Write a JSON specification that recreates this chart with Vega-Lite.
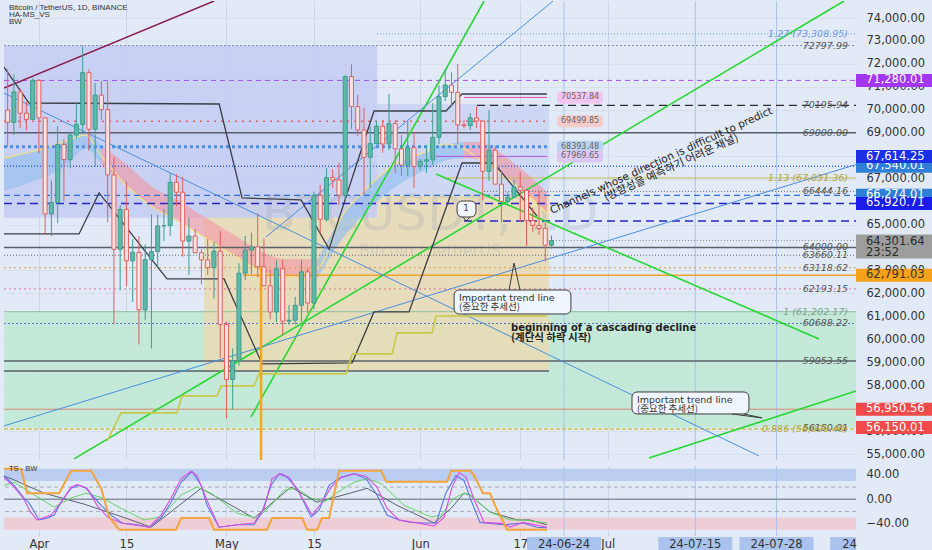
{
  "$schema": "https://vega.github.io/schema/vega-lite/v6.json",
  "background": "#e1eaf6",
  "padding": 0,
  "spacing": 2,
  "config": {"view": {"stroke": null}, "font": "DejaVu Sans"},
  "datasets": {
    "ohlc": [
      {"d":"2024-03-27","o":69990,"h":71770,"l":68380,"c":69450},
      {"d":"2024-03-28","o":69450,"h":71550,"l":68900,"c":70780},
      {"d":"2024-03-29","o":70780,"h":70920,"l":69210,"c":69850},
      {"d":"2024-03-30","o":69850,"h":70360,"l":69100,"c":69580},
      {"d":"2024-03-31","o":69580,"h":71370,"l":69560,"c":71280},
      {"d":"2024-04-01","o":71280,"h":71340,"l":68100,"c":69650},
      {"d":"2024-04-02","o":69650,"h":69680,"l":64550,"c":65460},
      {"d":"2024-04-03","o":65460,"h":66910,"l":64490,"c":65960},
      {"d":"2024-04-04","o":65960,"h":69290,"l":65060,"c":68490},
      {"d":"2024-04-05","o":68490,"h":68720,"l":66000,"c":67830},
      {"d":"2024-04-06","o":67830,"h":69000,"l":67450,"c":68900},
      {"d":"2024-04-07","o":68900,"h":70330,"l":68750,"c":69360},
      {"d":"2024-04-08","o":69360,"h":72800,"l":69040,"c":71620},
      {"d":"2024-04-09","o":71620,"h":71760,"l":68210,"c":69150},
      {"d":"2024-04-10","o":69150,"h":71170,"l":67520,"c":70640},
      {"d":"2024-04-11","o":70640,"h":71260,"l":69570,"c":70010},
      {"d":"2024-04-12","o":70010,"h":71230,"l":65100,"c":67160},
      {"d":"2024-04-13","o":67160,"h":67930,"l":60660,"c":63920},
      {"d":"2024-04-14","o":63920,"h":65840,"l":62130,"c":65660},
      {"d":"2024-04-15","o":65660,"h":66870,"l":62300,"c":63420},
      {"d":"2024-04-16","o":63420,"h":64360,"l":61620,"c":63790},
      {"d":"2024-04-17","o":63790,"h":64490,"l":59770,"c":61280},
      {"d":"2024-04-18","o":61280,"h":64130,"l":60830,"c":63470},
      {"d":"2024-04-19","o":63470,"h":65450,"l":59600,"c":63820},
      {"d":"2024-04-20","o":63820,"h":65420,"l":63170,"c":64940},
      {"d":"2024-04-21","o":64940,"h":65700,"l":64280,"c":64950},
      {"d":"2024-04-22","o":64950,"h":67230,"l":64500,"c":66840},
      {"d":"2024-04-23","o":66840,"h":67200,"l":65800,"c":66410},
      {"d":"2024-04-24","o":66410,"h":67080,"l":63600,"c":64280},
      {"d":"2024-04-25","o":64280,"h":65300,"l":62790,"c":64500},
      {"d":"2024-04-26","o":64500,"h":64800,"l":63780,"c":63770},
      {"d":"2024-04-27","o":63770,"h":63920,"l":62390,"c":63460},
      {"d":"2024-04-28","o":63460,"h":64370,"l":62810,"c":63120},
      {"d":"2024-04-29","o":63120,"h":64230,"l":61770,"c":63840},
      {"d":"2024-04-30","o":63840,"h":64730,"l":59190,"c":60640},
      {"d":"2024-05-01","o":60640,"h":60780,"l":56550,"c":58250},
      {"d":"2024-05-02","o":58250,"h":59600,"l":56940,"c":59060},
      {"d":"2024-05-03","o":59060,"h":63320,"l":58850,"c":62880},
      {"d":"2024-05-04","o":62880,"h":64500,"l":62580,"c":63890},
      {"d":"2024-05-05","o":63890,"h":64650,"l":62850,"c":64030},
      {"d":"2024-05-06","o":64030,"h":65500,"l":62700,"c":63160},
      {"d":"2024-05-07","o":63160,"h":64390,"l":62570,"c":62330},
      {"d":"2024-05-08","o":62330,"h":63030,"l":60880,"c":61190},
      {"d":"2024-05-09","o":61190,"h":63450,"l":60750,"c":63070},
      {"d":"2024-05-10","o":63070,"h":63470,"l":60190,"c":60790},
      {"d":"2024-05-11","o":60790,"h":61490,"l":60630,"c":60830},
      {"d":"2024-05-12","o":60830,"h":61850,"l":60630,"c":61480},
      {"d":"2024-05-13","o":61480,"h":63450,"l":60750,"c":62940},
      {"d":"2024-05-14","o":62940,"h":63100,"l":61150,"c":61580},
      {"d":"2024-05-15","o":61580,"h":66440,"l":61310,"c":66270},
      {"d":"2024-05-16","o":66270,"h":66730,"l":64600,"c":65230},
      {"d":"2024-05-17","o":65230,"h":67450,"l":65120,"c":67050},
      {"d":"2024-05-18","o":67050,"h":67400,"l":66600,"c":66940},
      {"d":"2024-05-19","o":66940,"h":67700,"l":65850,"c":66280},
      {"d":"2024-05-20","o":66280,"h":71500,"l":66060,"c":71450},
      {"d":"2024-05-21","o":71450,"h":71980,"l":69160,"c":70140},
      {"d":"2024-05-22","o":70140,"h":70650,"l":68850,"c":69120},
      {"d":"2024-05-23","o":69120,"h":70090,"l":66310,"c":67930},
      {"d":"2024-05-24","o":67930,"h":69250,"l":66600,"c":68530},
      {"d":"2024-05-25","o":68530,"h":69520,"l":68480,"c":69290},
      {"d":"2024-05-26","o":69290,"h":69560,"l":68130,"c":68510},
      {"d":"2024-05-27","o":68510,"h":70690,"l":68250,"c":69400},
      {"d":"2024-05-28","o":69400,"h":69560,"l":67250,"c":68300},
      {"d":"2024-05-29","o":68300,"h":68900,"l":67120,"c":67590},
      {"d":"2024-05-30","o":67590,"h":69500,"l":67120,"c":68350},
      {"d":"2024-05-31","o":68350,"h":69010,"l":66600,"c":67530},
      {"d":"2024-06-01","o":67530,"h":67860,"l":67380,"c":67760},
      {"d":"2024-06-02","o":67760,"h":68460,"l":67260,"c":67820},
      {"d":"2024-06-03","o":67820,"h":70290,"l":67610,"c":68800},
      {"d":"2024-06-04","o":68800,"h":71060,"l":68510,"c":70570},
      {"d":"2024-06-05","o":70570,"h":71760,"l":70380,"c":71080},
      {"d":"2024-06-06","o":71080,"h":71630,"l":70120,"c":70760},
      {"d":"2024-06-07","o":70760,"h":71990,"l":68510,"c":69340},
      {"d":"2024-06-08","o":69340,"h":69570,"l":69200,"c":69310},
      {"d":"2024-06-09","o":69310,"h":69850,"l":69120,"c":69650},
      {"d":"2024-06-10","o":69650,"h":70150,"l":69220,"c":69510},
      {"d":"2024-06-11","o":69510,"h":69560,"l":66050,"c":67320},
      {"d":"2024-06-12","o":67320,"h":69990,"l":66900,"c":68240},
      {"d":"2024-06-13","o":68240,"h":68450,"l":66760,"c":66760},
      {"d":"2024-06-14","o":66760,"h":67320,"l":65080,"c":66010},
      {"d":"2024-06-15","o":66010,"h":66400,"l":65880,"c":66190},
      {"d":"2024-06-16","o":66190,"h":66960,"l":66150,"c":66640},
      {"d":"2024-06-17","o":66640,"h":67300,"l":65110,"c":66490},
      {"d":"2024-06-18","o":66490,"h":66490,"l":64060,"c":65170},
      {"d":"2024-06-19","o":65170,"h":65730,"l":64690,"c":64960},
      {"d":"2024-06-20","o":64960,"h":66480,"l":64550,"c":64830},
      {"d":"2024-06-21","o":64830,"h":65070,"l":63380,"c":64100},
      {"d":"2024-06-22","o":64100,"h":64520,"l":63950,"c":64301.64}
    ],
    "zones": [
      {"d":"2024-03-26T10:00:00Z","d2":"2024-08-09T17:00:00Z","p":61202.17,"p2":56150.01,"k":"target"},
      {"d":"2024-04-27T10:00:00Z","d2":"2024-06-21T14:30:00Z","p":66300,"p2":58620,"k":"range"},
      {"d":"2024-03-26T10:00:00Z","d2":"2024-05-25T02:00:00Z","p":72800,"p2":65300,"k":"box"},
      {"d":"2024-05-25T02:00:00Z","d2":"2024-06-21T14:30:00Z","p":70250,"p2":66300,"k":"box2"}
    ],
    "cloud": [
      {"d":"2024-03-26T10:00:00Z","lo":66460,"hi":67900,"ph":"bull","seg":"a"},
      {"d":"2024-03-31T05:30:00Z","lo":66900,"hi":68200,"ph":"bull","seg":"a"},
      {"d":"2024-04-05T01:00:00Z","lo":67500,"hi":68600,"ph":"bull","seg":"a"},
      {"d":"2024-04-08T13:00:00Z","lo":68300,"hi":68960,"ph":"bull","seg":"a"},
      {"d":"2024-04-10T23:00:00Z","lo":67600,"hi":68450,"ph":"bull","seg":"a"},
      {"d":"2024-04-10T23:00:00Z","lo":67600,"hi":68450,"ph":"bear","seg":"b"},
      {"d":"2024-04-14T15:00:00Z","lo":66800,"hi":67700,"ph":"bear","seg":"b"},
      {"d":"2024-04-19T10:00:00Z","lo":65720,"hi":66590,"ph":"bear","seg":"b"},
      {"d":"2024-04-22T23:00:00Z","lo":65200,"hi":66100,"ph":"bear","seg":"b"},
      {"d":"2024-04-27T18:00:00Z","lo":64400,"hi":65280,"ph":"bear","seg":"b"},
      {"d":"2024-05-02T13:00:00Z","lo":63600,"hi":64500,"ph":"bear","seg":"b"},
      {"d":"2024-05-05T14:00:00Z","lo":63100,"hi":63980,"ph":"bear","seg":"b"},
      {"d":"2024-05-10T05:00:00Z","lo":62700,"hi":63500,"ph":"bear","seg":"b"},
      {"d":"2024-05-15T16:00:00Z","lo":62700,"hi":63500,"ph":"bear","seg":"b"},
      {"d":"2024-05-15T16:00:00Z","lo":62700,"hi":63500,"ph":"bull","seg":"c"},
      {"d":"2024-05-19T08:00:00Z","lo":64300,"hi":65300,"ph":"bull","seg":"c"},
      {"d":"2024-05-23T04:00:00Z","lo":65500,"hi":66500,"ph":"bull","seg":"c"},
      {"d":"2024-05-27T19:30:00Z","lo":66600,"hi":67600,"ph":"bull","seg":"c"},
      {"d":"2024-06-01T07:00:00Z","lo":67300,"hi":68100,"ph":"bull","seg":"c"},
      {"d":"2024-06-05T07:00:00Z","lo":67800,"hi":68500,"ph":"bull","seg":"c"},
      {"d":"2024-06-08T00:00:00Z","lo":67900,"hi":68600,"ph":"bull","seg":"c"},
      {"d":"2024-06-08T00:00:00Z","lo":67900,"hi":68600,"ph":"bear","seg":"d"},
      {"d":"2024-06-10T17:30:00Z","lo":67800,"hi":68600,"ph":"bear","seg":"d"},
      {"d":"2024-06-13T11:00:00Z","lo":67300,"hi":68200,"ph":"bear","seg":"d"},
      {"d":"2024-06-16T08:00:00Z","lo":66700,"hi":67600,"ph":"bear","seg":"d"},
      {"d":"2024-06-19T09:00:00Z","lo":66000,"hi":66900,"ph":"bear","seg":"d"},
      {"d":"2024-06-21T06:30:00Z","lo":65500,"hi":66400,"ph":"bear","seg":"d"}
    ],
    "ema": [
      {"d":"2024-03-26T10:00:00Z","p":67900},
      {"d":"2024-03-31T05:30:00Z","p":68200},
      {"d":"2024-04-05T01:00:00Z","p":68600},
      {"d":"2024-04-08T13:00:00Z","p":68900},
      {"d":"2024-04-10T23:00:00Z","p":68000},
      {"d":"2024-04-14T15:00:00Z","p":66800},
      {"d":"2024-04-19T10:00:00Z","p":65720},
      {"d":"2024-04-22T23:00:00Z","p":65200},
      {"d":"2024-04-27T18:00:00Z","p":64400},
      {"d":"2024-05-02T13:00:00Z","p":63600},
      {"d":"2024-05-05T14:00:00Z","p":63100},
      {"d":"2024-05-10T05:00:00Z","p":62700},
      {"d":"2024-05-15T16:00:00Z","p":63100},
      {"d":"2024-05-19T08:00:00Z","p":65300},
      {"d":"2024-05-23T04:00:00Z","p":66500},
      {"d":"2024-05-27T19:30:00Z","p":67600},
      {"d":"2024-06-01T07:00:00Z","p":68100},
      {"d":"2024-06-05T07:00:00Z","p":68500},
      {"d":"2024-06-08T00:00:00Z","p":68300},
      {"d":"2024-06-10T17:30:00Z","p":67800},
      {"d":"2024-06-13T11:00:00Z","p":67300},
      {"d":"2024-06-16T08:00:00Z","p":66700},
      {"d":"2024-06-19T09:00:00Z","p":66000},
      {"d":"2024-06-21T06:30:00Z","p":65500}
    ],
    "levels": [
      {"p":73308.95,"d":"2024-05-25T02:00:00Z","d2":"2024-08-09T17:00:00Z","k":"fib"},
      {"p":72797.99,"d":"2024-03-26T10:00:00Z","d2":"2024-08-09T17:00:00Z","k":"pivot"},
      {"p":71280.01,"d":"2024-03-26T10:00:00Z","d2":"2024-08-09T17:00:00Z","k":"alert"},
      {"p":70195.94,"d":"2024-06-10T02:00:00Z","d2":"2024-08-09T17:00:00Z","k":"swing"},
      {"p":70537.84,"d":"2024-06-08T00:00:00Z","d2":"2024-06-21T06:30:00Z","k":"session"},
      {"p":69499.85,"d":"2024-03-26T10:00:00Z","d2":"2024-06-21T06:30:00Z","k":"vwap"},
      {"p":69000,"d":"2024-03-26T10:00:00Z","d2":"2024-08-09T17:00:00Z","k":"key"},
      {"p":68393.48,"d":"2024-03-26T10:00:00Z","d2":"2024-06-21T06:30:00Z","k":"poc"},
      {"p":67969.65,"d":"2024-06-03T12:45:00Z","d2":"2024-06-21T06:30:00Z","k":"value"},
      {"p":67540.01,"d":"2024-03-26T10:00:00Z","d2":"2024-08-09T17:00:00Z","k":"level"},
      {"p":67031.36,"d":"2024-06-04T19:30:00Z","d2":"2024-08-09T17:00:00Z","k":"fibo"},
      {"p":66444.16,"d":"2024-06-11T05:00:00Z","d2":"2024-08-09T17:00:00Z","k":"minor"},
      {"p":66274.01,"d":"2024-03-26T10:00:00Z","d2":"2024-08-09T17:00:00Z","k":"band"},
      {"p":65920.71,"d":"2024-03-26T10:00:00Z","d2":"2024-08-09T17:00:00Z","k":"channel"},
      {"p":65150,"d":"2024-06-08T00:00:00Z","d2":"2024-08-09T17:00:00Z","k":"channel"},
      {"p":64301.64,"d":"2024-06-21T06:30:00Z","d2":"2024-08-09T17:00:00Z","k":"last"},
      {"p":64000,"d":"2024-03-26T10:00:00Z","d2":"2024-08-09T17:00:00Z","k":"key"},
      {"p":63660.11,"d":"2024-03-26T10:00:00Z","d2":"2024-08-09T17:00:00Z","k":"minor"},
      {"p":63118.62,"d":"2024-03-26T10:00:00Z","d2":"2024-08-09T17:00:00Z","k":"support2"},
      {"p":62791.03,"d":"2024-05-03T16:00:00Z","d2":"2024-08-09T17:00:00Z","k":"support"},
      {"p":62193.15,"d":"2024-03-26T10:00:00Z","d2":"2024-08-09T17:00:00Z","k":"retest"},
      {"p":61202.17,"d":"2024-03-26T10:00:00Z","d2":"2024-08-09T17:00:00Z","k":"fib-base"},
      {"p":60688.22,"d":"2024-03-26T10:00:00Z","d2":"2024-08-09T17:00:00Z","k":"level2"},
      {"p":59053.55,"d":"2024-03-26T10:00:00Z","d2":"2024-08-09T17:00:00Z","k":"key"},
      {"p":58620,"d":"2024-03-26T10:00:00Z","d2":"2024-06-21T14:30:00Z","k":"key"},
      {"p":56950.56,"d":"2024-03-26T10:00:00Z","d2":"2024-08-09T17:00:00Z","k":"stop"},
      {"p":56090.40,"d":"2024-03-26T10:00:00Z","d2":"2024-08-09T17:00:00Z","k":"fib-low"}
    ],
    "levelLabels": [
      {"p":73308.95,"t":"1.27 (73,308.95)","k":"fib"},
      {"p":72797.99,"t":"72797.99","k":"plain"},
      {"p":70195.94,"t":"70195.94","k":"plain"},
      {"p":69000,"t":"69000.00","k":"plain"},
      {"p":67031.36,"t":"1.13 (67,031.36)","k":"fibo"},
      {"p":66444.16,"t":"66444.16","k":"plain"},
      {"p":64000,"t":"64000.00","k":"plain"},
      {"p":63660.11,"t":"63660.11","k":"plain"},
      {"p":63118.62,"t":"63118.62","k":"plain"},
      {"p":62193.15,"t":"62193.15","k":"plain"},
      {"p":61202.17,"t":"1 (61,202.17)","k":"fib-base"},
      {"p":60688.22,"t":"60688.22","k":"plain"},
      {"p":59053.55,"t":"59053.55","k":"plain"},
      {"p":56150.01,"t":"56150.01","k":"plain"},
      {"p":56090.40,"t":"0.886 (56,090.40)","k":"fibo"}
    ],
    "trends": [
      {"id":"m","k":"maroon","d":"2024-03-26T10:00:00Z","p":70950},
      {"id":"m","k":"maroon","d":"2024-04-29T00:30:00Z","p":74740},
      {"id":"g1","k":"green","d":"2024-05-04T22:30:00Z","p":56617},
      {"id":"g1","k":"green","d":"2024-06-11T05:00:00Z","p":74740},
      {"id":"g2","k":"green","d":"2024-04-06T15:00:00Z","p":54787},
      {"id":"g2","k":"green","d":"2024-08-07T19:00:00Z","p":74740},
      {"id":"g3","k":"green","d":"2024-06-03T13:00:00Z","p":67203},
      {"id":"g3","k":"green","d":"2024-08-03T19:00:00Z","p":60015},
      {"id":"g4","k":"green","d":"2024-07-07T14:00:00Z","p":54831},
      {"id":"g4","k":"green","d":"2024-08-09T17:00:00Z","p":57750},
      {"id":"b1","k":"blue","d":"2024-03-26T10:00:00Z","p":56225},
      {"id":"b1","k":"blue","d":"2024-08-09T17:00:00Z","p":67614.25},
      {"id":"b2","k":"blue","d":"2024-03-26T10:00:00Z","p":70732},
      {"id":"b2","k":"blue","d":"2024-07-25T04:30:00Z","p":54918},
      {"id":"b3","k":"blue","d":"2024-05-07T08:00:00Z","p":64459},
      {"id":"b3","k":"blue","d":"2024-06-22T06:00:00Z","p":74740},
      {"id":"z1","k":"zig","d":"2024-03-26T10:00:00Z","p":71865},
      {"id":"z1","k":"zig","d":"2024-03-30T10:00:00Z","p":70296},
      {"id":"z1","k":"zig","d":"2024-04-29T20:00:00Z","p":70253},
      {"id":"z1","k":"zig","d":"2024-05-03T12:00:00Z","p":66158},
      {"id":"z1","k":"zig","d":"2024-05-12T22:30:00Z","p":66071},
      {"id":"z1","k":"zig","d":"2024-05-17T10:00:00Z","p":63936},
      {"id":"z1","k":"zig","d":"2024-05-24T14:30:00Z","p":69948},
      {"id":"z1","k":"zig","d":"2024-06-05T03:00:00Z","p":69948},
      {"id":"z1","k":"zig","d":"2024-06-07T16:30:00Z","p":70688},
      {"id":"z1","k":"zig","d":"2024-06-21T06:30:00Z","p":70688},
      {"id":"z2","k":"zig","d":"2024-03-26T10:00:00Z","p":64589},
      {"id":"z2","k":"zig","d":"2024-04-07T10:00:00Z","p":64589},
      {"id":"z2","k":"zig","d":"2024-04-10T15:00:00Z","p":66376},
      {"id":"z2","k":"zig","d":"2024-04-21T12:00:00Z","p":62629},
      {"id":"z2","k":"zig","d":"2024-04-30T15:00:00Z","p":62629},
      {"id":"z2","k":"zig","d":"2024-05-06T17:00:00Z","p":58926},
      {"id":"z2","k":"zig","d":"2024-05-21T02:30:00Z","p":58970},
      {"id":"z2","k":"zig","d":"2024-05-24T14:30:00Z","p":61191},
      {"id":"z2","k":"zig","d":"2024-05-30T05:00:00Z","p":61191},
      {"id":"z2","k":"zig","d":"2024-06-07T16:30:00Z","p":67682},
      {"id":"z2","k":"zig","d":"2024-06-12T19:30:00Z","p":67682},
      {"id":"z2","k":"zig","d":"2024-06-19T16:00:00Z","p":65374},
      {"id":"o1","k":"olive","d":"2024-04-11T22:00:00Z","p":55571},
      {"id":"o1","k":"olive","d":"2024-04-14T03:30:00Z","p":56791},
      {"id":"o1","k":"olive","d":"2024-04-23T02:30:00Z","p":56791},
      {"id":"o1","k":"olive","d":"2024-04-23T21:30:00Z","p":57532},
      {"id":"o1","k":"olive","d":"2024-04-29T12:00:00Z","p":57532},
      {"id":"o1","k":"olive","d":"2024-04-30T03:30:00Z","p":57968},
      {"id":"o1","k":"olive","d":"2024-05-05T10:00:00Z","p":57968},
      {"id":"o1","k":"olive","d":"2024-05-06T05:00:00Z","p":58490},
      {"id":"o1","k":"olive","d":"2024-05-20T03:30:00Z","p":58490},
      {"id":"o1","k":"olive","d":"2024-05-21T02:30:00Z","p":59362},
      {"id":"o1","k":"olive","d":"2024-05-27T12:00:00Z","p":59362},
      {"id":"o1","k":"olive","d":"2024-05-28T07:00:00Z","p":60277},
      {"id":"o1","k":"olive","d":"2024-06-02T21:30:00Z","p":60277},
      {"id":"o1","k":"olive","d":"2024-06-03T12:45:00Z","p":61017},
      {"id":"o1","k":"olive","d":"2024-06-21T06:30:00Z","p":61017}
    ],
    "pills": [
      {"d":"2024-06-26T13:30:00Z","p":70537.84,"t":"70537.84","k":"session"},
      {"d":"2024-06-26T13:30:00Z","p":69499.85,"t":"69499.85","k":"vwap"},
      {"d":"2024-06-26T13:30:00Z","p":68393.48,"t":"68393.48","k":"poc"},
      {"d":"2024-06-26T13:30:00Z","p":67969.65,"t":"67969.65","k":"value"}
    ],
    "tags": [
      {"p":71280.01,"t":"71,280.01","k":"alert"},
      {"p":67540.01,"t":"67,540.01","k":"level"},
      {"p":66274.01,"t":"66,274.01","k":"level"},
      {"p":65920.71,"t":"65,920.71","k":"channel"},
      {"p":62791.03,"t":"62,791.03","k":"support"},
      {"p":56950.56,"t":"56,950.56","k":"stop"},
      {"p":56150.01,"t":"56,150.01","k":"stop"}
    ],
    "callouts": [
      {"d":"2024-06-06T10:00:00Z","d2":"2024-06-25T02:30:00Z","p":62147,"p2":61102},
      {"d":"2024-07-04T21:00:00Z","d2":"2024-07-23T14:00:00Z","p":57703,"p2":56745},
      {"d":"2024-06-06T21:30:00Z","d2":"2024-06-09T22:00:00Z","p":66025,"p2":65328}
    ],
    "pointers": [
      {"id":"a","i":1,"d":"2024-06-15T05:00:00Z","p":62147},
      {"id":"a","i":2,"d":"2024-06-16T00:00:00Z","p":63326},
      {"id":"a","i":3,"d":"2024-06-16T23:00:00Z","p":62147},
      {"id":"b","i":1,"d":"2024-07-20T21:00:00Z","p":56745},
      {"id":"b","i":2,"d":"2024-07-25T16:00:00Z","p":56573},
      {"id":"b","i":3,"d":"2024-07-22T19:00:00Z","p":56745},
      {"id":"c","i":1,"d":"2024-06-07T20:30:00Z","p":65328},
      {"id":"c","i":2,"d":"2024-06-08T08:00:00Z","p":65154},
      {"id":"c","i":3,"d":"2024-06-08T23:30:00Z","p":65328}
    ],
    "markers": [
      {"d":"2024-06-24"},
      {"d":"2024-07-15"},
      {"d":"2024-07-28"}
    ],
    "osc": [
      {"s":"trend","d":"2024-03-26T10:00:00Z","v":38},
      {"s":"trend","d":"2024-03-27T13:00:00Z","v":34},
      {"s":"trend","d":"2024-04-01T20:00:00Z","v":10},
      {"s":"trend","d":"2024-04-08T05:30:00Z","v":-8},
      {"s":"trend","d":"2024-04-14T15:00:00Z","v":-30},
      {"s":"trend","d":"2024-04-18T23:00:00Z","v":-46},
      {"s":"trend","d":"2024-04-26T22:30:00Z","v":18},
      {"s":"trend","d":"2024-05-05T10:00:00Z","v":-31},
      {"s":"trend","d":"2024-05-11T08:00:00Z","v":20},
      {"s":"trend","d":"2024-05-15T12:00:00Z","v":-5},
      {"s":"trend","d":"2024-05-23T12:00:00Z","v":18},
      {"s":"trend","d":"2024-05-28T07:00:00Z","v":-10},
      {"s":"trend","d":"2024-06-03T05:00:00Z","v":-39},
      {"s":"trend","d":"2024-06-05T22:30:00Z","v":-15},
      {"s":"trend","d":"2024-06-08T00:00:00Z","v":10},
      {"s":"trend","d":"2024-06-08T23:30:00Z","v":7},
      {"s":"trend","d":"2024-06-12T04:00:00Z","v":-21},
      {"s":"trend","d":"2024-06-16T12:00:00Z","v":-34},
      {"s":"trend","d":"2024-06-18T13:30:00Z","v":-34},
      {"s":"trend","d":"2024-06-21T06:30:00Z","v":-42},
      {"s":"slow","d":"2024-03-26T10:00:00Z","v":23},
      {"s":"slow","d":"2024-03-28T01:00:00Z","v":28},
      {"s":"slow","d":"2024-04-03T10:30:00Z","v":-13},
      {"s":"slow","d":"2024-04-06T03:30:00Z","v":2},
      {"s":"slow","d":"2024-04-08T13:00:00Z","v":10},
      {"s":"slow","d":"2024-04-10T23:00:00Z","v":3},
      {"s":"slow","d":"2024-04-14T03:30:00Z","v":-15},
      {"s":"slow","d":"2024-04-17T20:00:00Z","v":-34},
      {"s":"slow","d":"2024-04-20T13:00:00Z","v":-29},
      {"s":"slow","d":"2024-04-23T18:00:00Z","v":7},
      {"s":"slow","d":"2024-04-26T07:00:00Z","v":20},
      {"s":"slow","d":"2024-04-28T13:00:00Z","v":10},
      {"s":"slow","d":"2024-05-02T17:00:00Z","v":-23},
      {"s":"slow","d":"2024-05-05T21:30:00Z","v":-31},
      {"s":"slow","d":"2024-05-08T03:30:00Z","v":-10},
      {"s":"slow","d":"2024-05-10T05:00:00Z","v":15},
      {"s":"slow","d":"2024-05-12T03:30:00Z","v":18},
      {"s":"slow","d":"2024-05-14T13:00:00Z","v":2},
      {"s":"slow","d":"2024-05-16T15:00:00Z","v":-5},
      {"s":"slow","d":"2024-05-18T17:00:00Z","v":11},
      {"s":"slow","d":"2024-05-21T10:00:00Z","v":28},
      {"s":"slow","d":"2024-05-23T12:00:00Z","v":34},
      {"s":"slow","d":"2024-05-25T18:00:00Z","v":26},
      {"s":"slow","d":"2024-05-29T10:00:00Z","v":-10},
      {"s":"slow","d":"2024-06-02T17:30:00Z","v":-29},
      {"s":"slow","d":"2024-06-04T08:00:00Z","v":-26},
      {"s":"slow","d":"2024-06-06T10:00:00Z","v":2},
      {"s":"slow","d":"2024-06-08T00:00:00Z","v":10},
      {"s":"slow","d":"2024-06-08T23:30:00Z","v":7},
      {"s":"slow","d":"2024-06-12T04:00:00Z","v":-21},
      {"s":"slow","d":"2024-06-15T09:00:00Z","v":-34},
      {"s":"slow","d":"2024-06-17T11:00:00Z","v":-34},
      {"s":"slow","d":"2024-06-21T06:30:00Z","v":-39},
      {"s":"fast","d":"2024-03-26T10:00:00Z","v":39},
      {"s":"fast","d":"2024-03-28T01:00:00Z","v":23},
      {"s":"fast","d":"2024-03-29T15:00:00Z","v":2},
      {"s":"fast","d":"2024-03-30T10:00:00Z","v":-6},
      {"s":"fast","d":"2024-04-01T01:00:00Z","v":-34},
      {"s":"fast","d":"2024-04-02T07:30:00Z","v":-31},
      {"s":"fast","d":"2024-04-03T10:30:00Z","v":-26},
      {"s":"fast","d":"2024-04-04T17:00:00Z","v":-2},
      {"s":"fast","d":"2024-04-06T03:30:00Z","v":18},
      {"s":"fast","d":"2024-04-07T10:30:00Z","v":23},
      {"s":"fast","d":"2024-04-08T13:00:00Z","v":18},
      {"s":"fast","d":"2024-04-10T23:00:00Z","v":-10},
      {"s":"fast","d":"2024-04-12T13:00:00Z","v":-26},
      {"s":"fast","d":"2024-04-14T07:30:00Z","v":-39},
      {"s":"fast","d":"2024-04-16T17:00:00Z","v":-42},
      {"s":"fast","d":"2024-04-18T15:00:00Z","v":-46},
      {"s":"fast","d":"2024-04-20T13:00:00Z","v":-31},
      {"s":"fast","d":"2024-04-22T03:30:00Z","v":-5},
      {"s":"fast","d":"2024-04-23T18:00:00Z","v":28},
      {"s":"fast","d":"2024-04-25T12:00:00Z","v":46},
      {"s":"fast","d":"2024-04-26T22:30:00Z","v":23},
      {"s":"fast","d":"2024-04-27T21:30:00Z","v":-10},
      {"s":"fast","d":"2024-04-29T19:30:00Z","v":-46},
      {"s":"fast","d":"2024-05-02T17:00:00Z","v":-42},
      {"s":"fast","d":"2024-05-05T10:00:00Z","v":-42},
      {"s":"fast","d":"2024-05-06T17:00:00Z","v":-21},
      {"s":"fast","d":"2024-05-08T03:30:00Z","v":23},
      {"s":"fast","d":"2024-05-09T10:00:00Z","v":42},
      {"s":"fast","d":"2024-05-10T17:00:00Z","v":36},
      {"s":"fast","d":"2024-05-12T07:00:00Z","v":18},
      {"s":"fast","d":"2024-05-14T13:00:00Z","v":-29},
      {"s":"fast","d":"2024-05-15T19:30:00Z","v":-18},
      {"s":"fast","d":"2024-05-17T10:00:00Z","v":23},
      {"s":"fast","d":"2024-05-19T08:00:00Z","v":36},
      {"s":"fast","d":"2024-05-21T10:00:00Z","v":42},
      {"s":"fast","d":"2024-05-23T08:00:00Z","v":34},
      {"s":"fast","d":"2024-05-25T02:00:00Z","v":7},
      {"s":"fast","d":"2024-05-26T16:30:00Z","v":-26},
      {"s":"fast","d":"2024-05-28T14:30:00Z","v":-34},
      {"s":"fast","d":"2024-05-30T12:30:00Z","v":-38},
      {"s":"fast","d":"2024-06-01T14:30:00Z","v":-39},
      {"s":"fast","d":"2024-06-03T12:45:00Z","v":-39},
      {"s":"fast","d":"2024-06-05T03:00:00Z","v":11},
      {"s":"fast","d":"2024-06-06T17:30:00Z","v":39},
      {"s":"fast","d":"2024-06-08T00:00:00Z","v":31},
      {"s":"fast","d":"2024-06-08T23:30:00Z","v":2},
      {"s":"fast","d":"2024-06-10T13:30:00Z","v":-38},
      {"s":"fast","d":"2024-06-14T06:00:00Z","v":-42},
      {"s":"fast","d":"2024-06-17T11:00:00Z","v":-39},
      {"s":"fast","d":"2024-06-19T16:00:00Z","v":-46},
      {"s":"fast","d":"2024-06-21T06:30:00Z","v":-47},
      {"s":"wave","d":"2024-03-26T10:00:00Z","v":36},
      {"s":"wave","d":"2024-03-28T01:00:00Z","v":20},
      {"s":"wave","d":"2024-03-29T15:00:00Z","v":0},
      {"s":"wave","d":"2024-03-30T14:00:00Z","v":-20},
      {"s":"wave","d":"2024-03-31T17:00:00Z","v":-34},
      {"s":"wave","d":"2024-04-02T23:00:00Z","v":-26},
      {"s":"wave","d":"2024-04-04T13:00:00Z","v":-5},
      {"s":"wave","d":"2024-04-06T03:30:00Z","v":20},
      {"s":"wave","d":"2024-04-07T02:30:00Z","v":24},
      {"s":"wave","d":"2024-04-08T17:00:00Z","v":18},
      {"s":"wave","d":"2024-04-10T07:30:00Z","v":-10},
      {"s":"wave","d":"2024-04-11T22:00:00Z","v":-29},
      {"s":"wave","d":"2024-04-14T03:30:00Z","v":-39},
      {"s":"wave","d":"2024-04-17T08:30:00Z","v":-44},
      {"s":"wave","d":"2024-04-18T15:00:00Z","v":-46},
      {"s":"wave","d":"2024-04-20T13:00:00Z","v":-26},
      {"s":"wave","d":"2024-04-22T03:30:00Z","v":2},
      {"s":"wave","d":"2024-04-23T18:00:00Z","v":34},
      {"s":"wave","d":"2024-04-25T08:00:00Z","v":46},
      {"s":"wave","d":"2024-04-26T07:00:00Z","v":39},
      {"s":"wave","d":"2024-04-27T21:30:00Z","v":-2},
      {"s":"wave","d":"2024-04-29T19:30:00Z","v":-46},
      {"s":"wave","d":"2024-05-02T17:00:00Z","v":-42},
      {"s":"wave","d":"2024-05-05T10:00:00Z","v":-39},
      {"s":"wave","d":"2024-05-07T00:30:00Z","v":-15},
      {"s":"wave","d":"2024-05-08T07:00:00Z","v":34},
      {"s":"wave","d":"2024-05-09T18:00:00Z","v":42},
      {"s":"wave","d":"2024-05-11T00:30:00Z","v":36},
      {"s":"wave","d":"2024-05-12T15:00:00Z","v":11},
      {"s":"wave","d":"2024-05-14T17:00:00Z","v":-26},
      {"s":"wave","d":"2024-05-16T07:00:00Z","v":-5},
      {"s":"wave","d":"2024-05-17T18:00:00Z","v":20},
      {"s":"wave","d":"2024-05-19T08:00:00Z","v":36},
      {"s":"wave","d":"2024-05-21T10:00:00Z","v":42},
      {"s":"wave","d":"2024-05-23T08:00:00Z","v":38},
      {"s":"wave","d":"2024-05-25T02:00:00Z","v":20},
      {"s":"wave","d":"2024-05-26T16:30:00Z","v":-15},
      {"s":"wave","d":"2024-05-28T14:30:00Z","v":-34},
      {"s":"wave","d":"2024-05-31T00:30:00Z","v":-38},
      {"s":"wave","d":"2024-06-03T05:00:00Z","v":-44},
      {"s":"wave","d":"2024-06-04T19:30:00Z","v":-30},
      {"s":"wave","d":"2024-06-06T02:00:00Z","v":20},
      {"s":"wave","d":"2024-06-07T05:00:00Z","v":44},
      {"s":"wave","d":"2024-06-08T08:00:00Z","v":36},
      {"s":"wave","d":"2024-06-09T14:30:00Z","v":0},
      {"s":"wave","d":"2024-06-11T05:00:00Z","v":-38},
      {"s":"wave","d":"2024-06-14T10:00:00Z","v":-40},
      {"s":"wave","d":"2024-06-15T09:00:00Z","v":-46},
      {"s":"wave","d":"2024-06-17T11:00:00Z","v":-38},
      {"s":"wave","d":"2024-06-21T06:30:00Z","v":-46},
      {"s":"signal","d":"2024-03-26T10:00:00Z","v":50},
      {"s":"signal","d":"2024-03-29T03:30:00Z","v":50},
      {"s":"signal","d":"2024-03-30T02:30:00Z","v":10},
      {"s":"signal","d":"2024-04-04T05:30:00Z","v":10},
      {"s":"signal","d":"2024-04-06T03:30:00Z","v":47},
      {"s":"signal","d":"2024-04-09T08:30:00Z","v":47},
      {"s":"signal","d":"2024-04-10T23:00:00Z","v":18},
      {"s":"signal","d":"2024-04-12T05:30:00Z","v":-29},
      {"s":"signal","d":"2024-04-13T20:00:00Z","v":-50},
      {"s":"signal","d":"2024-04-22T22:30:00Z","v":-50},
      {"s":"signal","d":"2024-04-23T18:00:00Z","v":-31},
      {"s":"signal","d":"2024-04-28T05:30:00Z","v":-31},
      {"s":"signal","d":"2024-04-29T00:30:00Z","v":-50},
      {"s":"signal","d":"2024-05-07T12:00:00Z","v":-50},
      {"s":"signal","d":"2024-05-08T07:00:00Z","v":-31},
      {"s":"signal","d":"2024-05-13T02:30:00Z","v":-31},
      {"s":"signal","d":"2024-05-13T21:30:00Z","v":-50},
      {"s":"signal","d":"2024-05-15T12:00:00Z","v":-50},
      {"s":"signal","d":"2024-05-16T07:00:00Z","v":-31},
      {"s":"signal","d":"2024-05-17T10:00:00Z","v":-31},
      {"s":"signal","d":"2024-05-19T00:30:00Z","v":47},
      {"s":"signal","d":"2024-05-25T18:00:00Z","v":47},
      {"s":"signal","d":"2024-05-26T13:00:00Z","v":29},
      {"s":"signal","d":"2024-06-05T07:00:00Z","v":29},
      {"s":"signal","d":"2024-06-05T22:30:00Z","v":47},
      {"s":"signal","d":"2024-06-08T23:30:00Z","v":47},
      {"s":"signal","d":"2024-06-09T14:30:00Z","v":39},
      {"s":"signal","d":"2024-06-11T01:00:00Z","v":10},
      {"s":"signal","d":"2024-06-12T04:00:00Z","v":10},
      {"s":"signal","d":"2024-06-12T23:00:00Z","v":-10},
      {"s":"signal","d":"2024-06-14T21:30:00Z","v":-50},
      {"s":"signal","d":"2024-06-21T06:30:00Z","v":-50}
    ]
  },
  "vconcat": [
    {
      "width": 852,
      "height": 459,
      "encoding": {
        "x": {
          "field": "d", "type": "temporal",
          "scale": {"type": "utc", "nice": false, "padding": 0,
            "domain": [{"year":2024,"month":3,"date":26,"hours":10,"utc":true},{"year":2024,"month":8,"date":9,"hours":17,"utc":true}]},
          "axis": {"title": null, "labels": false, "ticks": false, "domain": false, "grid": true, "gridColor": "#cbd6e8",
            "values": [{"year":2024,"month":4,"date":1,"utc":true},{"year":2024,"month":4,"date":15,"utc":true},{"year":2024,"month":5,"date":1,"utc":true},{"year":2024,"month":5,"date":15,"utc":true},{"year":2024,"month":6,"date":1,"utc":true},{"year":2024,"month":6,"date":17,"utc":true},{"year":2024,"month":7,"date":1,"utc":true}]}
        },
        "y": {
          "field": "p", "type": "quantitative",
          "scale": {"domain": [54739, 74741], "nice": false, "zero": false, "padding": 0},
          "axis": {"title": null, "orient": "right", "domain": false, "ticks": false, "grid": true, "gridColor": "#d5dfee",
            "labelPadding": 10, "labelFontSize": 11.5, "labelColor": "#333333", "format": ",.2f",
            "values": [55000,56000,57000,58000,59000,60000,61000,62000,63000,64000,65000,66000,67000,68000,69000,70000,71000,72000,73000,74000]}
        }
      },
      "layer": [
        {
          "data": {"name": "zones"},
          "mark": {"type": "rect", "opacity": 0.85},
          "encoding": {
            "x2": {"field": "d2"},
            "y2": {"field": "p2"},
            "color": {"field": "k", "type": "nominal", "legend": null,
              "scale": {"domain": ["target", "range", "box", "box2"], "range": ["#bfe9d3", "#e8dbb3", "#c3ccf3", "#cad5f5"]}}
          }
        },
        {
          "data": {"values": [{"d": "2024-06-02T13:30:00Z", "p": 65420, "t": "BTCUSDT, 1D"}]},
          "mark": {"type": "text", "align": "center", "baseline": "middle", "fontSize": 50, "color": "#8c96aa", "opacity": 0.2},
          "encoding": {"text": {"field": "t"}}
        },
        {
          "data": {"values": [{"d": "2024-06-02T13:30:00Z", "p": 63850, "t": "Bitcoin / TetherUS"}]},
          "mark": {"type": "text", "align": "center", "baseline": "middle", "fontSize": 16, "color": "#8c96aa", "opacity": 0.2},
          "encoding": {"text": {"field": "t"}}
        },
        {
          "data": {"name": "cloud"},
          "mark": {"type": "area", "opacity": 0.65, "interpolate": "monotone"},
          "encoding": {
            "y": {"field": "lo", "type": "quantitative"},
            "y2": {"field": "hi"},
            "detail": {"field": "seg"},
            "color": {"field": "ph", "type": "nominal", "legend": null,
              "scale": {"domain": ["bull", "bear"], "range": ["#93bff0", "#f19aa6"]}}
          }
        },
        {
          "data": {"name": "ema"},
          "mark": {"type": "line", "color": "#efe08c", "strokeWidth": 1.3, "interpolate": "monotone"},
          "encoding": {}
        },
        {
          "data": {"name": "markers"},
          "mark": {"type": "rule", "color": "#a9c3ec", "strokeWidth": 1},
          "encoding": {"y": null}
        },
        {
          "data": {"name": "levels"},
          "mark": {"type": "rule"},
          "encoding": {
            "x2": {"field": "d2"},
            "color": {"field": "k", "type": "nominal", "legend": null,
              "scale": {"domain": ["fib","pivot","alert","swing","session","vwap","key","poc","value","level","fibo","minor","band","channel","last","support2","support","retest","fib-base","level2","stop","fib-low"],
                "range": ["#6f98e8","#7d8bb8","#a64df0","#2d2d2d","#e04bb0","#e06060","#59606b","#4a90e2","#b04ee0","#2f5ee8","#c9b94c","#6a6a6a","#2f6fd8","#2626c8","#8a8a8a","#e89a40","#f2a02c","#e0708f","#8fc09c","#5a74c8","#d88a6a","#c8c448"]}},
            "strokeDash": {"field": "k", "type": "nominal", "legend": null,
              "scale": {"domain": ["fib","pivot","alert","swing","session","vwap","key","poc","value","level","fibo","minor","band","channel","last","support2","support","retest","fib-base","level2","stop","fib-low"],
                "range": [[1,2],[2,2],[5,4],[8,5],[1,0],[2,5],[1,0],[3,3],[1,0],[1,2],[1,0],[1,2],[6,4],[8,5],[1,2],[2,3],[1,0],[2,3],[1,0],[2,2],[1,0],[4,2]]}},
            "strokeWidth": {"field": "k", "type": "nominal", "legend": null,
              "scale": {"type": "ordinal", "domain": ["fib","pivot","alert","swing","session","vwap","key","poc","value","level","fibo","minor","band","channel","last","support2","support","retest","fib-base","level2","stop","fib-low"],
                "range": [1,1,1,1.2,1,1.5,1.5,3,1,1.5,1,1,1.2,1.5,1,1,1.5,1,1,1,1,1.5]}}
          }
        },
        {
          "data": {"name": "trends"},
          "mark": {"type": "line", "clip": true},
          "encoding": {
            "detail": {"field": "id"},
            "color": {"field": "k", "type": "nominal", "legend": null,
              "scale": {"domain": ["maroon", "green", "blue", "zig", "olive"], "range": ["#8b1d4f", "#27d832", "#4a8fe0", "#3a3d45", "#c9c84a"]}},
            "strokeWidth": {"field": "k", "type": "nominal", "legend": null,
              "scale": {"type": "ordinal", "domain": ["maroon", "green", "blue", "zig", "olive"], "range": [1.5, 1.6, 1, 1.3, 1.6]}}
          }
        },
        {
          "data": {"values": [{"d": "2024-05-06T13:00:00Z", "p": 54739, "p2": 63195}]},
          "mark": {"type": "rule", "color": "#f5a623", "strokeWidth": 2.5},
          "encoding": {"y2": {"field": "p2"}}
        },
        {
          "data": {"name": "ohlc"},
          "mark": {"type": "rule", "strokeWidth": 1},
          "encoding": {
            "y": {"field": "l", "type": "quantitative"},
            "y2": {"field": "h"},
            "color": {"condition": {"test": "datum.c >= datum.o", "value": "#3e9e8e"}, "value": "#e35d5d"}
          }
        },
        {
          "data": {"name": "ohlc"},
          "mark": {"type": "bar", "size": 4, "strokeWidth": 1},
          "encoding": {
            "y": {"field": "o", "type": "quantitative"},
            "y2": {"field": "c"},
            "fill": {"condition": {"test": "datum.c >= datum.o", "value": "#5fb8a8"}, "value": "#f9e3e3"},
            "stroke": {"condition": {"test": "datum.c >= datum.o", "value": "#3e9e8e"}, "value": "#e35d5d"}
          }
        },
        {
          "data": {"name": "levelLabels"},
          "mark": {"type": "text", "align": "right", "baseline": "middle", "dx": -8, "fontSize": 9.5, "fontStyle": "italic"},
          "encoding": {
            "x": {"value": "width"},
            "text": {"field": "t"},
            "color": {"field": "k", "type": "nominal", "legend": null,
              "scale": {"domain": ["plain", "fib", "fibo", "fib-base"], "range": ["#555555", "#6f98e8", "#b3a33c", "#7aa58a"]}}
          }
        },
        {
          "data": {"name": "pills"},
          "mark": {"type": "rect", "xOffset": -23, "x2Offset": 23, "yOffset": -6, "y2Offset": 6, "cornerRadius": 3},
          "encoding": {
            "x2": {"field": "d"},
            "y2": {"field": "p"},
            "color": {"field": "k", "type": "nominal", "legend": null,
              "scale": {"domain": ["session", "vwap", "poc", "value"], "range": ["#f2c4ef", "#f4cccc", "#b9d3f1", "#dec7f2"]}}
          }
        },
        {
          "data": {"name": "pills"},
          "mark": {"type": "text", "align": "center", "baseline": "middle", "fontSize": 8, "color": "#666666"},
          "encoding": {"text": {"field": "t"}}
        },
        {
          "data": {"name": "callouts"},
          "mark": {"type": "rect", "fill": "#eef5fc", "stroke": "#3d3d3d", "strokeWidth": 1, "cornerRadius": 5},
          "encoding": {
            "x2": {"field": "d2"},
            "y2": {"field": "p2"}
          }
        },
        {
          "data": {"name": "pointers"},
          "mark": {"type": "line", "color": "#3d3d3d", "strokeWidth": 1},
          "encoding": {
            "detail": {"field": "id"},
            "order": {"field": "i"}
          }
        },
        {
          "data": {"values": [
            {"d": "2024-06-07T05:00:00Z", "p": 61800, "t": "Important trend line"},
            {"d": "2024-07-05T16:00:00Z", "p": 57355, "t": "Important trend line"}
          ]},
          "mark": {"type": "text", "align": "left", "baseline": "middle", "fontSize": 9.5, "color": "#333333"},
          "encoding": {"text": {"field": "t"}}
        },
        {
          "data": {"values": [
            {"d": "2024-06-07T05:00:00Z", "p": 61405, "t": "(중요한 추세선)"},
            {"d": "2024-07-05T16:00:00Z", "p": 56963, "t": "(중요한 추세선)"}
          ]},
          "mark": {"type": "text", "align": "left", "baseline": "middle", "fontSize": 9.5, "font": "Noto Sans CJK KR", "color": "#333333"},
          "encoding": {"text": {"field": "t"}}
        },
        {
          "data": {"values": [{"d": "2024-06-15T12:30:00Z", "p": 60490, "t": "beginning of a cascading decline"}]},
          "mark": {"type": "text", "align": "left", "baseline": "middle", "fontSize": 10, "fontWeight": "bold", "color": "#222222"},
          "encoding": {"text": {"field": "t"}}
        },
        {
          "data": {"values": [{"d": "2024-06-15T12:30:00Z", "p": 60070, "t": "(계단식 하락 시작)"}]},
          "mark": {"type": "text", "align": "left", "baseline": "middle", "fontSize": 10.5, "fontWeight": "bold", "font": "Noto Sans CJK KR", "color": "#222222"},
          "encoding": {"text": {"field": "t"}}
        },
        {
          "data": {"values": [{"d": "2024-06-22T02:00:00Z", "p": 65460, "t": "Channels whose direction is difficult to predict"}]},
          "mark": {"type": "text", "align": "left", "baseline": "alphabetic", "angle": 335.5, "fontSize": 10.5, "color": "#222222"},
          "encoding": {"text": {"field": "t"}}
        },
        {
          "data": {"values": [{"d": "2024-06-30T17:00:00Z", "p": 66025, "t": "(방향성을 예측하기 어려운 채널)"}]},
          "mark": {"type": "text", "align": "left", "baseline": "alphabetic", "angle": 335.5, "fontSize": 11, "font": "Noto Sans CJK KR", "color": "#222222"},
          "encoding": {"text": {"field": "t"}}
        },
        {
          "data": {"values": [{"d": "2024-06-08T08:00:00Z", "p": 65677, "t": "1"}]},
          "mark": {"type": "text", "align": "center", "baseline": "middle", "fontSize": 8, "color": "#333333"},
          "encoding": {"text": {"field": "t"}}
        },
        {
          "data": {"values": [
            {"d": "2024-03-26T10:00:00Z", "p": 74450, "t": "Bitcoin / TetherUS, 1D, BINANCE", "w": "bold"},
            {"d": "2024-03-26T10:00:00Z", "p": 74131, "t": "HA-MS_VS", "w": "normal"},
            {"d": "2024-03-26T10:00:00Z", "p": 73840, "t": "BW", "w": "normal"}
          ]},
          "mark": {"type": "text", "align": "left", "baseline": "middle", "dx": 5, "font": "Liberation Sans", "fontSize": 8, "color": "#333333"},
          "encoding": {
            "text": {"field": "t"},
            "fontWeight": {"field": "w", "type": "nominal", "legend": null, "scale": {"domain": ["bold", "normal"], "range": ["bold", "normal"]}}
          }
        },
        {
          "data": {"name": "tags"},
          "mark": {"type": "rect", "x2Offset": 80, "yOffset": -6.5, "y2Offset": 6.5},
          "encoding": {
            "x": {"value": "width"},
            "x2": {"value": "width"},
            "y2": {"field": "p"},
            "color": {"field": "k", "type": "nominal", "legend": null,
              "scale": {"domain": ["alert", "level", "channel", "support", "stop"], "range": ["#a336f0", "#2f7fd6", "#1b1bea", "#f6a11a", "#f04a4a"]}}
          }
        },
        {
          "data": {"name": "tags"},
          "mark": {"type": "text", "align": "left", "baseline": "middle", "dx": 10, "fontSize": 11.5},
          "encoding": {
            "x": {"value": "width"},
            "text": {"field": "t"},
            "color": {"field": "k", "type": "nominal", "legend": null,
              "scale": {"domain": ["alert", "level", "channel", "support", "stop"], "range": ["#ffffff", "#ffffff", "#ffffff", "#333333", "#ffffff"]}}
          }
        },
        {
          "data": {"values": [{"p": 67614.25, "t": "67,614.25"}]},
          "mark": {"type": "rect", "x2Offset": 80, "yOffset": -14.5, "y2Offset": -1.5, "color": "#1b2fe6"},
          "encoding": {
            "x": {"value": "width"},
            "x2": {"value": "width"},
            "y2": {"field": "p"}
          }
        },
        {
          "data": {"values": [{"p": 67614.25, "t": "67,614.25"}]},
          "mark": {"type": "text", "align": "left", "baseline": "middle", "dx": 10, "dy": -8, "fontSize": 11.5, "color": "#ffffff"},
          "encoding": {
            "x": {"value": "width"},
            "text": {"field": "t"}
          }
        },
        {
          "data": {"values": [{"p": 64301.64, "t": "64,301.64\n23:52"}]},
          "mark": {"type": "rect", "x2Offset": 80, "yOffset": -6, "y2Offset": 18, "color": "#9d9d9d"},
          "encoding": {
            "x": {"value": "width"},
            "x2": {"value": "width"},
            "y2": {"field": "p"}
          }
        },
        {
          "data": {"values": [{"p": 64301.64, "t": "64,301.64\n23:52"}]},
          "mark": {"type": "text", "align": "left", "baseline": "top", "dx": 10, "dy": -5, "fontSize": 11.5, "lineHeight": 11, "lineBreak": "\n", "color": "#2a2a2a"},
          "encoding": {
            "x": {"value": "width"},
            "text": {"field": "t"}
          }
        }
      ],
      "resolve": {"scale": {"color": "independent", "strokeDash": "independent", "strokeWidth": "independent", "fontWeight": "independent"}}
    },
    {
      "width": 852,
      "height": 70,
      "encoding": {
        "x": {
          "field": "d", "type": "temporal",
          "scale": {"type": "utc", "nice": false, "padding": 0,
            "domain": [{"year":2024,"month":3,"date":26,"hours":10,"utc":true},{"year":2024,"month":8,"date":9,"hours":17,"utc":true}]},
          "axis": {"title": null, "ticks": false, "domain": false, "grid": true, "gridColor": "#cbd6e8",
            "labelFontSize": 11.5, "labelColor": "#333333", "labelPadding": 2,
            "labelExpr": "utcFormat(datum.value, '%d') == '01' ? utcFormat(datum.value, '%b') : utcFormat(datum.value, '%-d')",
            "values": [{"year":2024,"month":4,"date":1,"utc":true},{"year":2024,"month":4,"date":15,"utc":true},{"year":2024,"month":5,"date":1,"utc":true},{"year":2024,"month":5,"date":15,"utc":true},{"year":2024,"month":6,"date":1,"utc":true},{"year":2024,"month":6,"date":17,"utc":true},{"year":2024,"month":7,"date":1,"utc":true}]}
        },
        "y": {
          "field": "v", "type": "quantitative",
          "scale": {"domain": [-60.4, 54.7], "nice": false, "zero": false, "padding": 0},
          "axis": {"title": null, "orient": "right", "domain": false, "ticks": false, "grid": false,
            "labelPadding": 10, "labelFontSize": 11.5, "labelColor": "#333333", "format": ".2f", "values": [-40, 0, 40]}
        }
      },
      "layer": [
        {
          "data": {"values": [
            {"d": "2024-03-26T10:00:00Z", "d2": "2024-08-09T17:00:00Z", "v": 30, "v2": 50, "z": "upper"},
            {"d": "2024-03-26T10:00:00Z", "d2": "2024-08-09T17:00:00Z", "v": -50, "v2": -30, "z": "lower"}
          ]},
          "mark": {"type": "rect"},
          "encoding": {
            "x2": {"field": "d2"},
            "y2": {"field": "v2"},
            "color": {"field": "z", "type": "nominal", "legend": null,
              "scale": {"domain": ["upper", "lower"], "range": ["#bccdf2", "#efcdd6"]}}
          }
        },
        {
          "data": {"name": "markers"},
          "mark": {"type": "rule", "color": "#a9c3ec", "strokeWidth": 1},
          "encoding": {"y": null}
        },
        {
          "data": {"values": [{"v": 20}, {"v": -20}]},
          "mark": {"type": "rule", "color": "#a3abb8", "strokeDash": [4, 3], "strokeWidth": 1},
          "encoding": {"x": null}
        },
        {
          "data": {"values": [{"v": 0}]},
          "mark": {"type": "rule", "color": "#8a919c", "strokeWidth": 1.5},
          "encoding": {"x": null}
        },
        {
          "data": {"name": "osc"},
          "mark": {"type": "line"},
          "encoding": {
            "color": {"field": "s", "type": "nominal", "legend": null,
              "scale": {"domain": ["trend", "slow", "fast", "wave", "signal"], "range": ["#5a6270", "#62d462", "#5b77e8", "#d84ee0", "#f3a43a"]}},
            "strokeWidth": {"field": "s", "type": "nominal", "legend": null,
              "scale": {"type": "ordinal", "domain": ["trend", "slow", "fast", "wave", "signal"], "range": [1, 1, 1.1, 1.1, 2]}}
          }
        },
        {
          "data": {"values": [{"d": "2024-03-26T10:00:00Z", "v": 49.5, "t": "TS - BW"}]},
          "mark": {"type": "text", "align": "left", "baseline": "middle", "dx": 5, "font": "Liberation Sans", "fontSize": 7.5, "color": "#333333"},
          "encoding": {"text": {"field": "t"}}
        },
        {
          "data": {"values": [{"d": "2024-06-24", "t": "24-06-24"}, {"d": "2024-07-15", "t": "24-07-15"}, {"d": "2024-07-28", "t": "24-07-28"}]},
          "mark": {"type": "rect", "xOffset": -37, "x2Offset": 37, "yOffset": 1, "y2Offset": 16, "color": "#a9c3ee"},
          "encoding": {
            "x2": {"field": "d"},
            "y": {"value": "height"},
            "y2": {"value": "height"}
          }
        },
        {
          "data": {"values": [{"d": "2024-06-24", "t": "24-06-24"}, {"d": "2024-07-15", "t": "24-07-15"}, {"d": "2024-07-28", "t": "24-07-28"}]},
          "mark": {"type": "text", "align": "center", "baseline": "middle", "dy": 9, "fontSize": 11.5, "color": "#333333"},
          "encoding": {
            "y": {"value": "height"},
            "text": {"field": "t"}
          }
        },
        {
          "data": {"values": [{"d": "2024-08-11T12:00:00Z", "t": "24"}]},
          "mark": {"type": "rect", "xOffset": -37, "yOffset": 1, "y2Offset": 16, "color": "#a9c3ee"},
          "encoding": {
            "x2": {"value": "width"},
            "y": {"value": "height"},
            "y2": {"value": "height"}
          }
        },
        {
          "data": {"values": [{"d": "2024-08-11T12:00:00Z", "t": "24"}]},
          "mark": {"type": "text", "align": "left", "baseline": "middle", "dx": -25, "dy": 9, "fontSize": 11.5, "color": "#333333"},
          "encoding": {
            "y": {"value": "height"},
            "text": {"field": "t"}
          }
        }
      ],
      "resolve": {"scale": {"color": "independent", "strokeWidth": "independent"}}
    }
  ]
}
